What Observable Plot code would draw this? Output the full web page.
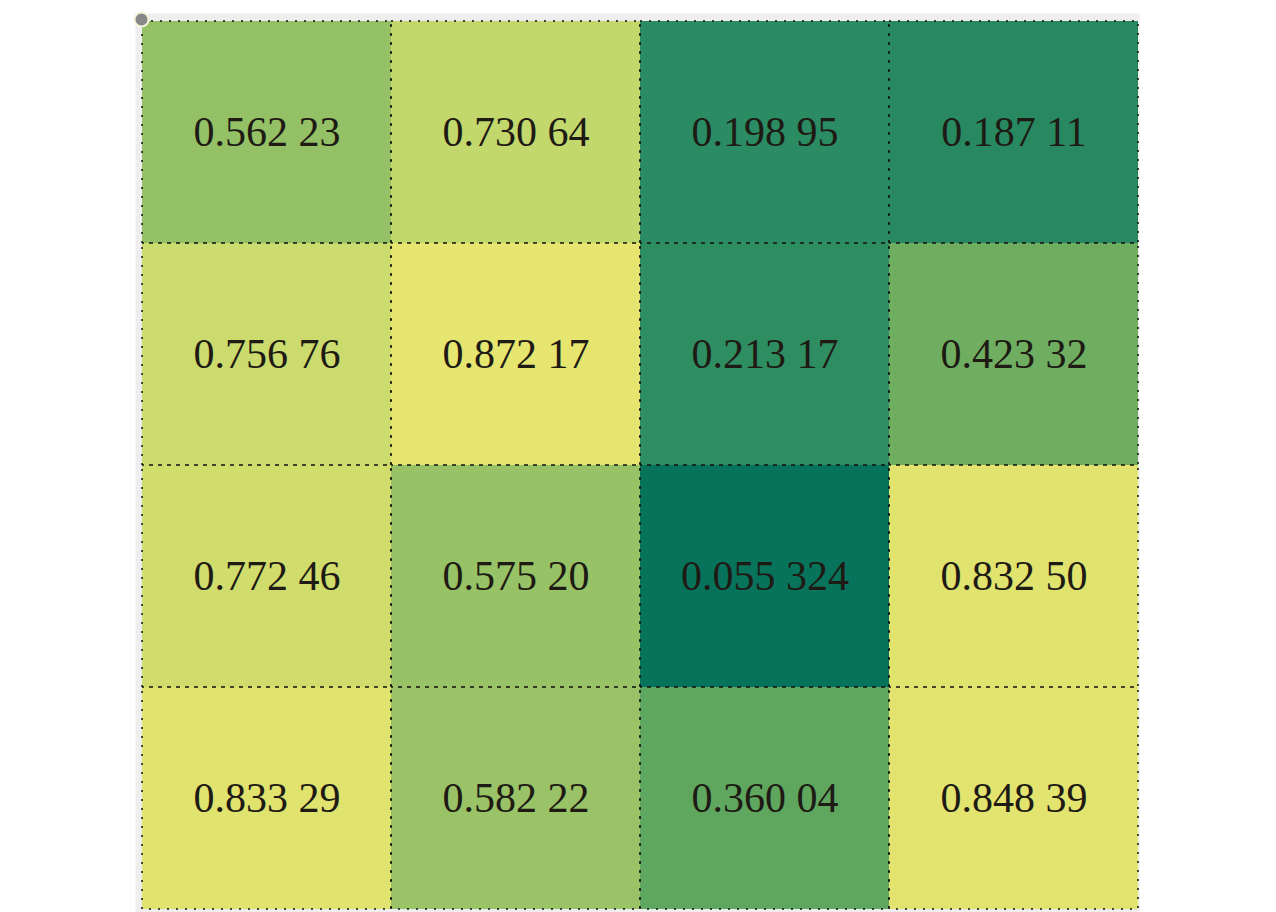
<!DOCTYPE html>
<html>
<head>
<meta charset="utf-8">
<script src="https://cdn.jsdelivr.net/npm/d3@7"></script>
<script src="https://cdn.jsdelivr.net/npm/@observablehq/plot@0.6"></script>
<style>
  html, body { margin: 0; padding: 0; background: #fff; }
</style>
</head>
<body>
<div id="chart"></div>
<script>
const rows = ["r1", "r2", "r3", "r4"];
const cols = ["c1", "c2", "c3", "c4"];
const values = [
  [0.56223, 0.73064, 0.19895, 0.18711],
  [0.75676, 0.87217, 0.21317, 0.42332],
  [0.77246, 0.57520, 0.055324, 0.83250],
  [0.83329, 0.58222, 0.36004, 0.84839]
];
const labels = [
  ["0.562 23", "0.730 64", "0.198 95", "0.187 11"],
  ["0.756 76", "0.872 17", "0.213 17", "0.423 32"],
  ["0.772 46", "0.575 20", "0.055 324", "0.832 50"],
  ["0.833 29", "0.582 22", "0.360 04", "0.848 39"]
];
const colorStops = [0.055, 0.2, 0.36, 0.575, 0.73, 0.83, 0.872];
const colorRange = ["#08735b", "#2b8b62", "#5fa65f", "#97c266", "#c3d86c", "#e1e36f", "#e5e570"];

const data = [];
rows.forEach((r, i) => cols.forEach((c, j) => data.push({row: r, col: c, value: values[i][j], label: labels[i][j]})));

const chart = Plot.plot({
  width: 1276,
  height: 912,
  marginLeft: 141,
  marginRight: 137,
  marginTop: 19,
  marginBottom: 2,
  style: {background: "#fff"},
  x: {domain: cols, padding: 0, axis: null},
  y: {domain: rows, padding: 0, axis: null},
  color: {type: "linear", domain: colorStops, range: colorRange},
  marks: [
    Plot.frame({fill: "#eeeeee", stroke: null, insetTop: -6, insetLeft: -6, insetBottom: -2}),
    Plot.cell(data, {x: "col", y: "row", fill: "value"}),
    Plot.cell(data, {x: "col", y: "row", fill: null, stroke: "#111", strokeWidth: 1.5, strokeDasharray: "2,7"}),
    Plot.text(data, {x: "col", y: "row", text: "label", fill: "#1e1a14", fontSize: 42, fontFamily: "Liberation Serif", fontWeight: "normal"}),
    Plot.dot([0], {frameAnchor: "top-left", r: 7, fill: "#888", stroke: "#f6f4d8", strokeWidth: 2})
  ]
});
document.getElementById("chart").appendChild(chart);
</script>
</body>
</html>
